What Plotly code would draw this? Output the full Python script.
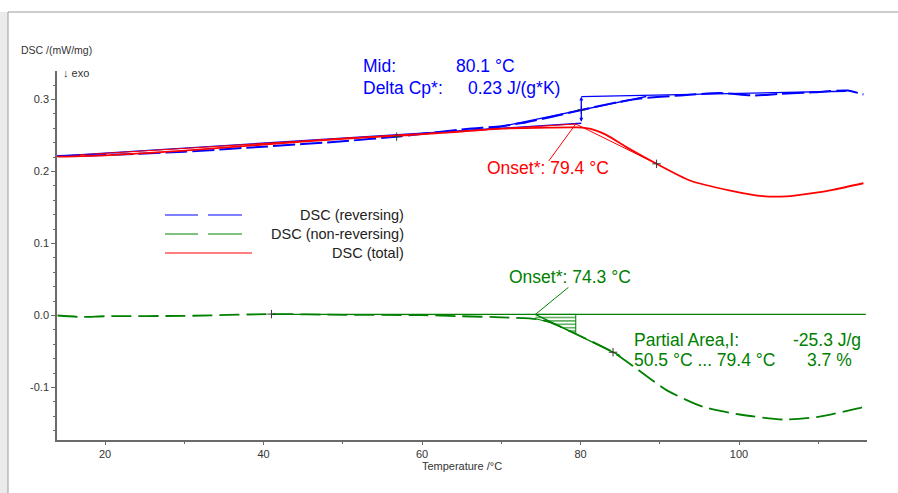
import numpy as np
import plotly.graph_objects as go

# ---------------- data ----------------
rev_T = [14, 20, 30, 40, 50, 57.4, 65.6, 70, 73.2, 76, 80.1, 84.1, 87.5, 92.6, 97.6, 101.8, 105.2, 109.4, 113.7, 115.7]
rev_v = [0.2215, 0.2229, 0.2275, 0.2345, 0.242, 0.249, 0.259, 0.263, 0.2685, 0.275, 0.2855, 0.295, 0.3015, 0.3056, 0.309, 0.3056, 0.3079, 0.310, 0.3125, 0.307]

nonrev_T = [14, 17, 20, 30, 41, 50, 60, 65, 70, 74.5, 76.2, 79.3, 84.1, 87.1, 90.9, 95.5, 100.1, 105.6, 109.8, 115.0, 115.7]
nonrev_v = [0.0, -0.002, -0.001, -0.0005, 0.002, 0.001, 0.0005, -0.001, -0.0025, -0.005, -0.0095, -0.025, -0.051, -0.074, -0.104, -0.127, -0.1375, -0.1445, -0.141, -0.129, -0.127]

total_T = [14, 20, 30, 40, 50, 57.4, 65, 70, 76, 79.6, 81.5, 83.3, 86, 89.6, 93.8, 98.9, 103, 106, 109.3, 112, 115.7]
total_v = [0.2206, 0.2225, 0.229, 0.2375, 0.2455, 0.250, 0.2555, 0.2595, 0.261, 0.2612, 0.2585, 0.2505, 0.2325, 0.2107, 0.1875, 0.1736, 0.1657, 0.1655, 0.170, 0.175, 0.1837]

series_names = ["DSC (reversing)", "DSC (non-reversing)", "DSC (total)"]

# evaluation results
mid_T = 80.1
delta_cp = 0.23
step_low_v, step_high_v = 0.267, 0.304
rev_upper_end = (113.5, 0.3115)
rev_tangent_T = (68.0, 88.3)
rev_tangent_slope = 0.002278

total_onset_T = 79.4
total_onset_v = 0.266
total_tangent_end_T = 89.6

nonrev_onset_T = 74.3
nonrev_base_v = 0.0015
nonrev_base_T = (41.0, 116.0)
nonrev_tangent_end_T = 85.0
area_start_T, area_end_T = 50.5, 79.4
area_value = -25.3
area_pct = 3.7

rev_marks_T = [56.8, 80.1]
nonrev_marks_T = [41.0, 84.1]
total_marks_T = [89.6]

x_ticks = [20, 40, 60, 80, 100]
y_ticks = [-0.1, 0.0, 0.1, 0.2, 0.3]
y_tick_labels = ["-0.1", "0.0", "0.1", "0.2", "0.3"]
x_range = [13.94, 116.15]
y_range = [-0.1729, 0.3396]

# ---------------- styling ----------------
BLUE, GREEN, RED = "#0000ff", "#008000", "#ff0000"
FONT = "Liberation Sans, Arial, sans-serif"
W, H = 898, 493
L, R, T, B = 57, 31, 71, 53
PW, PH = W - L - R, H - T - B


def px(x):
    return (x - L) / PW


def py(y):
    return (H - B - y) / PH


fig = go.Figure()

# helper/evaluation lines (drawn under curves)
fig.add_trace(go.Scatter(x=[x_range[0], mid_T], y=[rev_v[0], step_low_v], mode="lines",
                         line=dict(color=BLUE, width=1.3), hoverinfo="skip", showlegend=False))
fig.add_trace(go.Scatter(x=[mid_T, rev_upper_end[0]], y=[step_high_v, rev_upper_end[1]], mode="lines",
                         line=dict(color=BLUE, width=1.3), hoverinfo="skip", showlegend=False))
mid_v = float(np.interp(mid_T, rev_T, rev_v))
fig.add_trace(go.Scatter(x=list(rev_tangent_T),
                         y=[mid_v + rev_tangent_slope * (t - mid_T) for t in rev_tangent_T],
                         mode="lines", line=dict(color=BLUE, width=1.3), hoverinfo="skip", showlegend=False))

total_infl_v = float(np.interp(total_tangent_end_T, total_T, total_v))
fig.add_trace(go.Scatter(x=[x_range[0], total_onset_T], y=[total_v[0] + 0.0005, total_onset_v], mode="lines",
                         line=dict(color=RED, width=1), hoverinfo="skip", showlegend=False))
fig.add_trace(go.Scatter(x=[total_onset_T, total_tangent_end_T], y=[total_onset_v, total_infl_v], mode="lines",
                         line=dict(color=RED, width=1), hoverinfo="skip", showlegend=False))

fig.add_trace(go.Scatter(x=list(nonrev_base_T), y=[nonrev_base_v, nonrev_base_v], mode="lines",
                         line=dict(color=GREEN, width=1.3), hoverinfo="skip", showlegend=False))
nr_mark_v = float(np.interp(nonrev_marks_T[1], nonrev_T, nonrev_v))
nr_slope = (nr_mark_v - nonrev_base_v) / (nonrev_marks_T[1] - nonrev_onset_T)
fig.add_trace(go.Scatter(x=[nonrev_onset_T, nonrev_tangent_end_T],
                         y=[nonrev_base_v, nonrev_base_v + nr_slope * (nonrev_tangent_end_T - nonrev_onset_T)],
                         mode="lines", line=dict(color=GREEN, width=1.3), hoverinfo="skip", showlegend=False))

# hatched partial area
inner = [t for t in nonrev_T if nonrev_onset_T < t < area_end_T]
poly_T = [nonrev_onset_T] + inner + [area_end_T, area_end_T, nonrev_onset_T]
poly_v = ([float(np.interp(nonrev_onset_T, nonrev_T, nonrev_v))]
          + [float(np.interp(t, nonrev_T, nonrev_v)) for t in inner]
          + [float(np.interp(area_end_T, nonrev_T, nonrev_v)), nonrev_base_v, nonrev_base_v])
fig.add_trace(go.Scatter(x=poly_T, y=poly_v, mode="lines", fill="toself",
                         fillcolor="rgba(0,0,0,0)",
                         fillpattern=dict(shape="-", fgcolor=GREEN, bgcolor="rgba(0,0,0,0)", size=3.4, solidity=0.3),
                         line=dict(color=GREEN, width=1), hoverinfo="skip", showlegend=False))

# main curves
fig.add_trace(go.Scatter(x=rev_T, y=rev_v, mode="lines", name=series_names[0],
                         line=dict(color=BLUE, width=2, dash="22px,5px", shape="spline", smoothing=0.6),
                         showlegend=False))
fig.add_trace(go.Scatter(x=nonrev_T, y=nonrev_v, mode="lines", name=series_names[1],
                         line=dict(color=GREEN, width=1.8, dash="20px,7px", shape="spline", smoothing=0.6),
                         showlegend=False))
fig.add_trace(go.Scatter(x=total_T, y=total_v, mode="lines", name=series_names[2],
                         line=dict(color=RED, width=1.8, shape="spline", smoothing=0.6),
                         showlegend=False))

# cross markers
mk_T = rev_marks_T + nonrev_marks_T + total_marks_T
mk_v = ([float(np.interp(t, rev_T, rev_v)) for t in rev_marks_T]
        + [float(np.interp(t, nonrev_T, nonrev_v)) for t in nonrev_marks_T]
        + [float(np.interp(t, total_T, total_v)) for t in total_marks_T])
fig.add_trace(go.Scatter(x=mk_T, y=mk_v, mode="markers",
                         marker=dict(symbol="cross-thin", size=6, line=dict(width=1, color="#333333")),
                         hoverinfo="skip", showlegend=False))

ann = []
shapes = []

# step arrow (Delta Cp)
ann.append(dict(x=mid_T, y=step_high_v, ax=mid_T, ay=step_low_v, xref="x", yref="y", axref="x", ayref="y",
                text="", showarrow=True, arrowhead=2, arrowsize=0.6, arrowwidth=1.3,
                arrowside="end+start", arrowcolor=BLUE))

# leader lines for onsets
shapes.append(dict(type="line", xref="x", yref="y", xsizemode="pixel", ysizemode="pixel",
                   xanchor=total_onset_T, yanchor=total_onset_v, x0=0, y0=0, x1=-27, y1=-37,
                   line=dict(color=RED, width=1)))
shapes.append(dict(type="line", xref="x", yref="y", xsizemode="pixel", ysizemode="pixel",
                   xanchor=nonrev_onset_T, yanchor=nonrev_base_v, x0=0, y0=0, x1=33, y1=27,
                   line=dict(color=GREEN, width=1)))


def text(x, y, s, color, size, xanchor="left"):
    ann.append(dict(x=px(x), y=py(y), xref="paper", yref="paper", text=s, showarrow=False,
                    xanchor=xanchor, yanchor="middle", font=dict(family=FONT, size=size, color=color)))


BIG = 17.5
text(361, 66, "Mid:", BLUE, BIG)
text(454, 66, f"{mid_T:.1f} °C", BLUE, BIG)
text(361, 88, "Delta Cp*:", BLUE, BIG)
text(466, 88, f"{delta_cp:.2f} J/(g*K)", BLUE, BIG)
text(548, 168, f"Onset*: {total_onset_T:.1f} °C", RED, BIG, "center")
text(570, 277, f"Onset*: {nonrev_onset_T:.1f} °C", GREEN, BIG, "center")
text(632, 340, "Partial Area,I:", GREEN, BIG)
text(863, 340, f"{area_value:.1f} J/g", GREEN, BIG, "right")
text(632, 360, f"{area_start_T:.1f} °C ... {area_end_T:.1f} °C", GREEN, BIG)
text(854, 360, f"{area_pct:.1f} %", GREEN, BIG, "right")

# axis captions
text(19, 50, "DSC /(mW/mg)", "#333333", 10.5)
text(61, 73, "↓ exo", "#333333", 11)

# manual legend
leg_colors = [BLUE, GREEN, RED]
leg_y = [215, 234, 253]
for name, col, yy in zip(series_names, leg_colors, leg_y):
    if col == RED:
        shapes.append(dict(type="line", xref="paper", yref="paper", x0=px(165), x1=px(252), y0=py(yy), y1=py(yy),
                           line=dict(color=col, width=1)))
    else:
        for a, b in [(165, 198), (208, 242)]:
            shapes.append(dict(type="line", xref="paper", yref="paper", x0=px(a), x1=px(b), y0=py(yy), y1=py(yy),
                               line=dict(color=col, width=1)))
    text(406, yy, name, "#222222", 14.5, "right")

# page frame
shapes.append(dict(type="rect", xref="paper", yref="paper", x0=px(0), x1=px(8), y0=py(493), y1=py(12),
                   fillcolor="#ebebeb", line=dict(width=0), layer="above"))
shapes.append(dict(type="line", xref="paper", yref="paper", x0=px(8), x1=px(8), y0=py(493), y1=py(12),
                   line=dict(color="#9a9a9a", width=1)))
shapes.append(dict(type="line", xref="paper", yref="paper", x0=px(8), x1=px(898), y0=py(12), y1=py(12),
                   line=dict(color="#9a9a9a", width=1)))

axis_common = dict(showgrid=False, zeroline=False, showline=True, linecolor="#6a6a6a", linewidth=1.5,
                   ticks="outside", tickcolor="#6a6a6a", tickwidth=1, automargin=False,
                   tickfont=dict(family=FONT, size=11, color="#333333"))

fig.update_layout(
    width=W, height=H, margin=dict(l=L, r=R, t=T, b=B, pad=0),
    paper_bgcolor="white", plot_bgcolor="white", template="none",
    showlegend=False, annotations=ann, shapes=shapes,
    xaxis=dict(range=x_range, tickvals=x_ticks, ticklen=3,
               minor=dict(dtick=10, tick0=0, ticks="outside", ticklen=2, tickcolor="#6a6a6a"),
               title=dict(text="Temperature /°C", font=dict(family=FONT, size=11, color="#333333"), standoff=0),
               **axis_common),
    yaxis=dict(range=y_range, tickvals=y_ticks, ticktext=y_tick_labels, ticklen=4,
               minor=dict(dtick=0.02, tick0=0, ticks="outside", ticklen=2, tickcolor="#6a6a6a"),
               **axis_common),
)

fig.write_html("out.html", config={"displayModeBar": False},
               post_script="document.body.style.margin='0';document.body.style.overflow='hidden';")
